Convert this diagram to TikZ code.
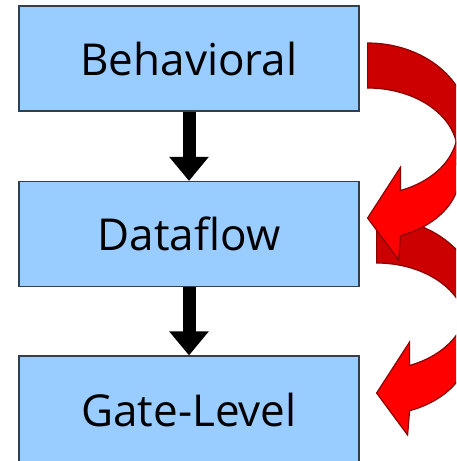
\documentclass[tikz,border=0pt]{standalone}
\usepackage{fontspec}
\setmainfont{Open Sans}
\usetikzlibrary{calc,arrows.meta}
\definecolor{boxfill}{HTML}{99CCFF}
\definecolor{boxline}{HTML}{333F4F}
\definecolor{arrowdark}{HTML}{CC0000}
\definecolor{arrowlight}{HTML}{FF0000}
\definecolor{arrowedge}{HTML}{8B0000}

% curved "refine" arrow, local origin at the top of its tail
\newcommand\bendarrow{%
  \filldraw[backband] (0,0)
    -- plot[domain=-90:30,samples=60,variable=\t] ({101*cos(\t)},{82+82*sin(\t)})
    -- (88.6,98.5)
    -- plot[domain=-10.2:-90,samples=60,variable=\t] ({90*cos(\t)},{110+65*sin(\t)})
    -- cycle;
  \filldraw[frontband] (88.6,98.5)
    -- plot[domain=10.2:68.5,samples=60,variable=\t] ({90*cos(\t)},{87+65*sin(\t)})
    -- (33,124) -- (0,175) -- (31,217)
    -- plot[domain=69:0,samples=60,variable=\t] ({92*cos(\t)},{132+65*sin(\t)})
    -- (95,103) -- cycle;
}

\begin{document}
\begin{tikzpicture}[x=1pt,y=-1pt,
  level/.style={draw=boxline, line width=1.2pt, fill=boxfill,
    minimum width=340pt, minimum height=105pt, inner sep=0pt,
    font=\fontsize{44}{50}\selectfont},
  down/.style={line width=13pt, -{Triangle[width=38pt,length=24pt]}},
  backband/.style={fill=arrowdark, draw=arrowedge, line width=1.2pt},
  frontband/.style={fill=arrowlight, draw=arrowedge, line width=1.2pt},
  ]
\useasboundingbox (0,0) rectangle (456,461);
\clip (0,0) rectangle (456,461);

\node[level] (b1) at (189,58.5) {Behavioral};
\node[level] (b2) at (189,234) {Dataflow};
\node[level, minimum height=108pt] (b3) at (189,410) {Gate-Level};

\draw[down] (b1.south) -- (b2.north);
\draw[down] (b2.south) -- (b3.north);

\begin{scope}[shift={($(b2.east)+(17,-16)$)}]
  \bendarrow
\end{scope}
\begin{scope}[shift={($(b1.east)+(8,-15.5)$)}]
  \bendarrow
\end{scope}
\end{tikzpicture}
\end{document}
